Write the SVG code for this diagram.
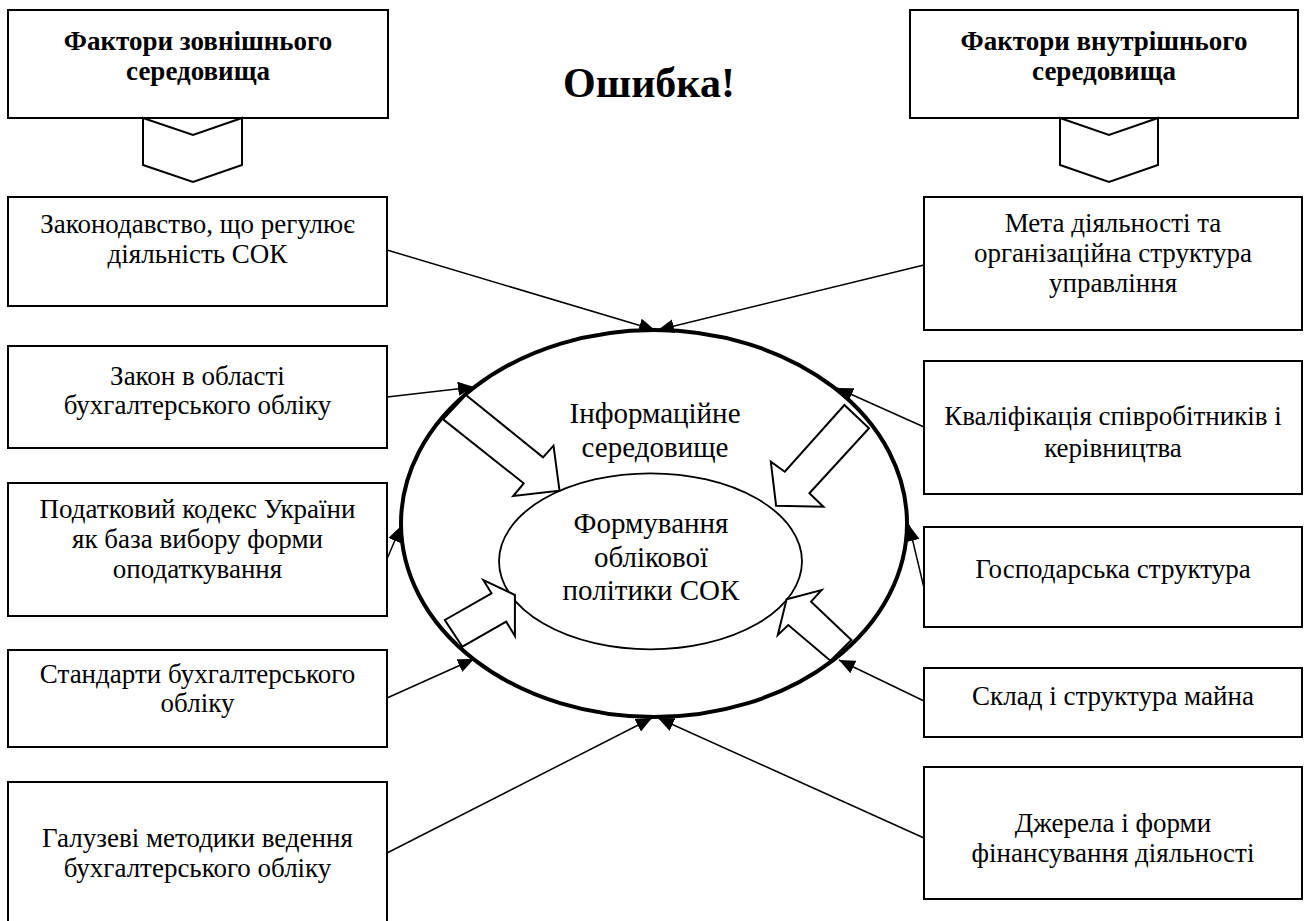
<svg xmlns="http://www.w3.org/2000/svg" width="1305" height="921" viewBox="0 0 1305 921">
<style>
.box{fill:#fff;stroke:#000;stroke-width:2}
.t{font-size:27px}
.h{font-size:27px;font-weight:bold}
.c{font-size:29px}
.ln{stroke:#000;stroke-width:1.5;fill:none;marker-end:url(#ah)}
.blk{fill:#fff;stroke:#000;stroke-width:2;stroke-linejoin:miter}
</style>
<defs>
<marker id="ah" markerUnits="userSpaceOnUse" markerWidth="18" markerHeight="14" refX="16" refY="7" orient="auto">
<path d="M0,0 L16,7 L0,14 Z" fill="#000"/>
</marker>
</defs>
<rect width="1305" height="921" fill="#fff"/>
<g font-family="Liberation Serif, Times New Roman, Noto Serif, DejaVu Serif, serif" text-anchor="middle" fill="#000">

<g id="header-left">
<rect class="box" x="8" y="10" width="380" height="108"/>
<text class="h" x="198" y="50">Фактори зовнішнього</text>
<text class="h" x="198" y="80">середовища</text>
<polygon class="blk" points="143,118 193,135 242,118 242,165 193,182 143,165"/>
</g>
<g id="header-right">
<rect class="box" x="910" y="10" width="388" height="108"/>
<text class="h" x="1104" y="50">Фактори внутрішнього</text>
<text class="h" x="1104" y="80">середовища</text>
<polygon class="blk" points="1060,118 1109,135 1158,118 1158,165 1109,182 1060,165"/>
</g>
<g id="title">
<text class="h" x="649" y="97" style="font-size:42px">Ошибка!</text>
</g>

<g id="outer-ellipse">
<ellipse cx="654" cy="523.5" rx="253" ry="193.5" fill="#fff" stroke="#000" stroke-width="4"/>
<text class="c" x="655" y="423">Інформаційне</text>
<text class="c" x="655" y="457">середовище</text>
</g>
<g id="inner-ellipse">
<ellipse cx="650.5" cy="561.3" rx="151.5" ry="88" fill="#fff" stroke="#000" stroke-width="1.8"/>
<text class="c" x="651" y="533">Формування</text>
<text class="c" x="651" y="567">облікової</text>
<text class="c" x="651" y="600">політики СОК</text>
</g>

<g id="block-arrows">
<polygon class="blk" points="465.9,395 543,457.3 553.5,445.7 559.5,490.7 513.2,496 523.7,483.3 443.1,419.3"/>
<polygon class="blk" points="844.4,405 784.8,471.7 770.8,461.7 776.1,505.7 823.4,506.7 809.4,493.3 869,428.3"/>
<polygon class="blk" points="444.8,620 491.5,593.3 483.4,580 514.9,595 514.9,636 506.2,621.7 462.4,646.7"/>
<polygon class="blk" points="851.4,640 811.1,601.7 821.6,590 786.6,599.3 777.8,635 788.3,625 830.4,660.7"/>
</g>

<g id="left-1">
<rect class="box" x="8" y="197" width="379" height="109"/>
<text class="t" x="197.5" y="233">Законодавство, що регулює</text>
<text class="t" x="197.5" y="263">діяльність СОК</text>
</g>
<g id="left-2">
<rect class="box" x="8" y="346" width="379" height="102"/>
<text class="t" x="197.5" y="385">Закон в області</text>
<text class="t" x="197.5" y="414">бухгалтерського обліку</text>
</g>
<g id="left-3">
<rect class="box" x="8" y="483" width="379" height="133"/>
<text class="t" x="197.5" y="518">Податковий кодекс України</text>
<text class="t" x="197.5" y="548">як база вибору форми</text>
<text class="t" x="197.5" y="578">оподаткування</text>
</g>
<g id="left-4">
<rect class="box" x="8" y="650" width="379" height="97"/>
<text class="t" x="197.5" y="683">Стандарти бухгалтерського</text>
<text class="t" x="197.5" y="712">обліку</text>
</g>
<g id="left-5">
<rect class="box" x="8" y="782" width="379" height="145"/>
<text class="t" x="197.5" y="847">Галузеві методики ведення</text>
<text class="t" x="197.5" y="877">бухгалтерського обліку</text>
</g>

<g id="right-1">
<rect class="box" x="924" y="197" width="378" height="133"/>
<text class="t" x="1113" y="232">Мета діяльності та</text>
<text class="t" x="1113" y="262">організаційна структура</text>
<text class="t" x="1113" y="292">управління</text>
</g>
<g id="right-2">
<rect class="box" x="924" y="361" width="378" height="133"/>
<text class="t" x="1113" y="425">Кваліфікація співробітників і</text>
<text class="t" x="1113" y="457">керівництва</text>
</g>
<g id="right-3">
<rect class="box" x="924" y="527" width="378" height="100"/>
<text class="t" x="1113" y="578">Господарська структура</text>
</g>
<g id="right-4">
<rect class="box" x="924" y="668" width="378" height="69"/>
<text class="t" x="1113" y="705">Склад і структура майна</text>
</g>
<g id="right-5">
<rect class="box" x="924" y="767" width="378" height="132"/>
<text class="t" x="1113" y="832">Джерела і форми</text>
<text class="t" x="1113" y="862">фінансування діяльності</text>
</g>
</g>

<g id="connectors">
<line class="ln" x1="387" y1="250" x2="655" y2="330"/>
<line class="ln" x1="387" y1="397" x2="474" y2="387"/>
<line class="ln" x1="387" y1="559" x2="401" y2="526"/>
<line class="ln" x1="387" y1="698" x2="474" y2="659"/>
<line class="ln" x1="387" y1="853" x2="652" y2="718"/>
<line class="ln" x1="924" y1="265" x2="658" y2="330"/>
<line class="ln" x1="924" y1="427" x2="837" y2="388"/>
<line class="ln" x1="924" y1="588" x2="909" y2="525"/>
<line class="ln" x1="924" y1="701" x2="839" y2="660"/>
<line class="ln" x1="924" y1="838" x2="658" y2="718"/>
</g>
</svg>
